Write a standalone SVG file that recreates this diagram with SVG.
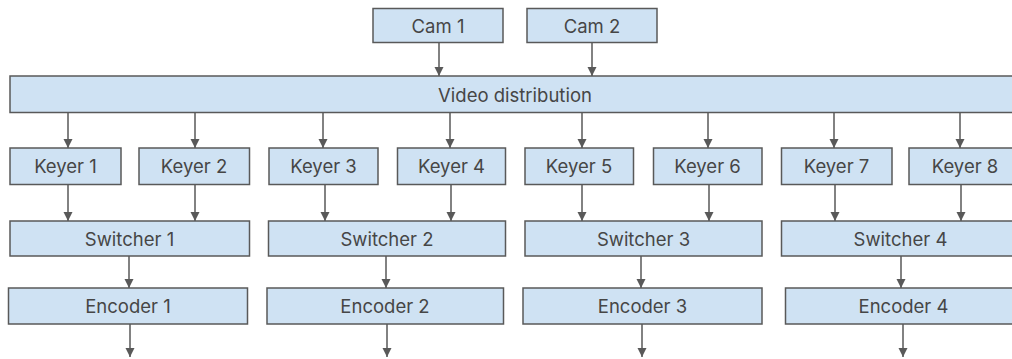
<svg xmlns="http://www.w3.org/2000/svg" width="1012" height="359" viewBox="0 0 1012 359">
<style>
.n rect{fill:#cfe2f3;stroke:#595959;stroke-width:1.5}
.n text{font-family:Inter,"Liberation Sans",sans-serif;font-size:18.5px;fill:#464646;text-anchor:middle;dominant-baseline:central}
.c line{stroke:#595959;stroke-width:1.5;marker-end:url(#ah)}
</style>
<defs>
<marker id="ah" markerUnits="userSpaceOnUse" markerWidth="10" markerHeight="10" refX="9" refY="4.5" orient="auto">
<path d="M0,0 L9,4.5 L0,9 z" fill="#595959"/>
</marker>
</defs>
<rect width="1012" height="359" fill="#fff"/>
<g class="c">
<line x1="439" y1="43" x2="439" y2="76"/>
<line x1="592" y1="43" x2="592" y2="76"/>
<line x1="68" y1="113" x2="68" y2="148"/>
<line x1="195" y1="113" x2="195" y2="148"/>
<line x1="323" y1="113" x2="323" y2="148"/>
<line x1="450" y1="113" x2="450" y2="148"/>
<line x1="582" y1="113" x2="582" y2="148"/>
<line x1="708" y1="113" x2="708" y2="148"/>
<line x1="834" y1="113" x2="834" y2="148"/>
<line x1="960" y1="113" x2="960" y2="148"/>
<line x1="68" y1="184" x2="68" y2="221"/>
<line x1="195" y1="184" x2="195" y2="221"/>
<line x1="325" y1="184" x2="325" y2="221"/>
<line x1="451" y1="184" x2="451" y2="221"/>
<line x1="582" y1="184" x2="582" y2="221"/>
<line x1="709" y1="184" x2="709" y2="221"/>
<line x1="835" y1="184" x2="835" y2="221"/>
<line x1="961" y1="184" x2="961" y2="221"/>
<line x1="129" y1="256" x2="129" y2="288"/>
<line x1="386" y1="256" x2="386" y2="288"/>
<line x1="641" y1="256" x2="641" y2="288"/>
<line x1="901" y1="256" x2="901" y2="288"/>
<line x1="130" y1="324" x2="130" y2="357"/>
<line x1="387" y1="324" x2="387" y2="357"/>
<line x1="642" y1="324" x2="642" y2="357"/>
<line x1="903" y1="324" x2="903" y2="357"/>
</g>
<g id="cam1" class="n"><rect x="373" y="8.5" width="130" height="34"/><text x="438" y="25.5">Cam 1</text></g>
<g id="cam2" class="n"><rect x="527" y="8.5" width="130" height="34"/><text x="592" y="25.5">Cam 2</text></g>
<g id="vd" class="n"><rect x="10" y="76" width="1010" height="36.5"/><text x="515" y="94.5">Video distribution</text></g>
<g id="keyer1" class="n"><rect x="10" y="148" width="111" height="36.5"/><text x="65.5" y="166">Keyer 1</text></g>
<g id="keyer2" class="n"><rect x="139" y="148" width="110.5" height="36.5"/><text x="194" y="166">Keyer 2</text></g>
<g id="keyer3" class="n"><rect x="269" y="148" width="109" height="36.5"/><text x="323.5" y="166">Keyer 3</text></g>
<g id="keyer4" class="n"><rect x="397.5" y="148" width="108" height="36.5"/><text x="451.5" y="166">Keyer 4</text></g>
<g id="keyer5" class="n"><rect x="525" y="148" width="108.5" height="36.5"/><text x="579" y="166">Keyer 5</text></g>
<g id="keyer6" class="n"><rect x="653.5" y="148" width="108.5" height="36.5"/><text x="707.5" y="166">Keyer 6</text></g>
<g id="keyer7" class="n"><rect x="781.5" y="148" width="110.5" height="36.5"/><text x="836.5" y="166">Keyer 7</text></g>
<g id="keyer8" class="n"><rect x="909" y="148" width="112" height="36.5"/><text x="965" y="166">Keyer 8</text></g>
<g id="switcher1" class="n"><rect x="10" y="221" width="239.5" height="35"/><text x="129.5" y="238.5">Switcher 1</text></g>
<g id="switcher2" class="n"><rect x="268.5" y="221" width="237" height="35"/><text x="387" y="238.5">Switcher 2</text></g>
<g id="switcher3" class="n"><rect x="525" y="221" width="237" height="35"/><text x="643.5" y="238.5">Switcher 3</text></g>
<g id="switcher4" class="n"><rect x="781.5" y="221" width="238" height="35"/><text x="900.5" y="238.5">Switcher 4</text></g>
<g id="encoder1" class="n"><rect x="8.5" y="288" width="239" height="36"/><text x="128" y="306">Encoder 1</text></g>
<g id="encoder2" class="n"><rect x="267" y="288" width="236.5" height="36"/><text x="385" y="306">Encoder 2</text></g>
<g id="encoder3" class="n"><rect x="523" y="288" width="239" height="36"/><text x="642.5" y="306">Encoder 3</text></g>
<g id="encoder4" class="n"><rect x="785.5" y="288" width="236" height="36"/><text x="903.5" y="306">Encoder 4</text></g>
</svg>
